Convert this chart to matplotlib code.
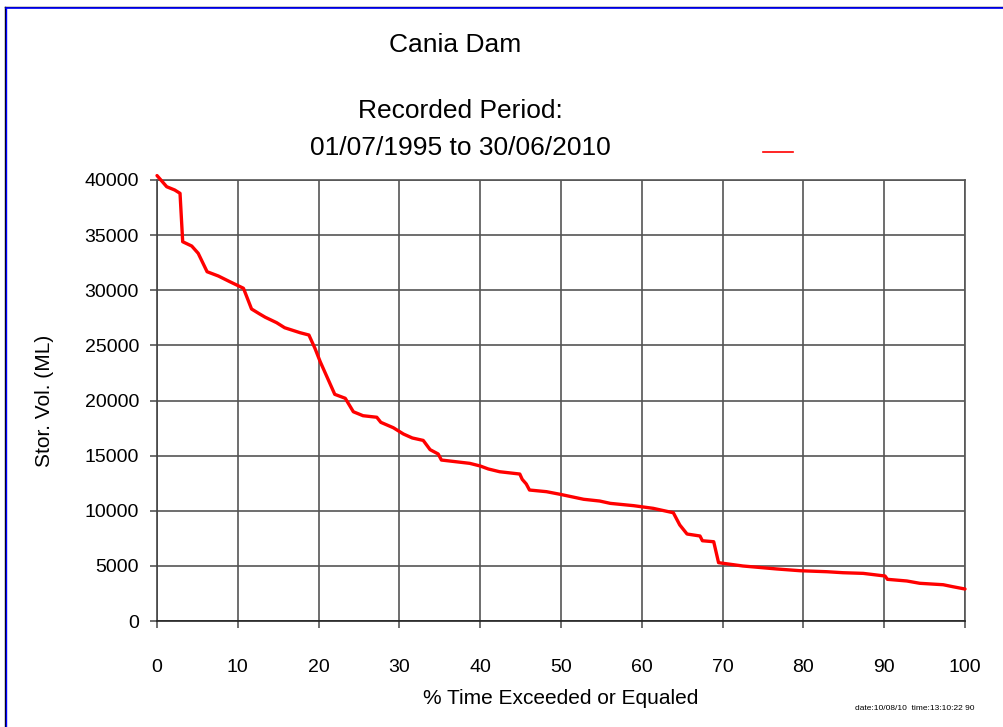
import matplotlib
matplotlib.use("Agg")
import matplotlib.pyplot as plt
from matplotlib.lines import Line2D

plt.rcParams['font.family'] = ['Liberation Sans Narrow', 'Liberation Sans', 'DejaVu Sans']

# Data: % time exceeded or equaled vs storage volume (ML)
pct_time = [0.0, 0.6, 1.2, 2.2, 2.85, 3.18, 4.3, 5.1, 6.2, 7.6, 9.0, 10.7, 11.7, 12.7, 13.4,
            14.8, 15.8, 17.7, 18.8, 19.55, 20.2, 22.0, 23.3, 24.3, 25.5, 27.2, 27.7,
            29.25, 30.5, 31.6, 32.95, 33.8, 34.8, 35.2, 38.7, 40.0, 41.0, 42.4, 44.9,
            45.2, 45.7, 46.1, 48.2, 49.9, 52.8, 54.8, 56.1, 59.0, 61.4, 63.9, 64.7,
            65.6, 67.2, 67.5, 68.9, 69.5, 72.5, 76.7, 79.6, 82.9, 84.9, 87.4, 90.1,
            90.4, 92.8, 94.4, 97.3, 98.5, 100.0]
stor_vol = [40400, 39900, 39390, 39090, 38790, 34400, 34010, 33350, 31680, 31290, 30780, 30180,
            28300, 27850, 27550, 27060, 26600, 26150, 25940, 24730, 23520, 20560, 20200,
            18980, 18620, 18480, 18020, 17530, 16960, 16600, 16380, 15540, 15150, 14600,
            14300, 14060, 13790, 13540, 13330, 12850, 12430, 11880, 11730, 11490, 11040,
            10880, 10670, 10460, 10220, 9820, 8710, 7890, 7710, 7280, 7190, 5290, 4990,
            4720, 4560, 4470, 4380, 4320, 4080, 3780, 3630, 3420, 3290, 3110, 2900]

x_ticks = [0, 10, 20, 30, 40, 50, 60, 70, 80, 90, 100]
y_ticks = [0, 5000, 10000, 15000, 20000, 25000, 30000, 35000, 40000]

W, H = 1004, 727
fig = plt.figure(figsize=(W / 100, H / 100), dpi=100)
ax = fig.add_axes([157 / W, 1 - 621 / H, (965 - 157) / W, (621 - 180) / H])

ax.plot(pct_time, stor_vol, color='#ff0000', lw=2.4, solid_joinstyle='round',
        solid_capstyle='round', zorder=3, clip_on=False)

ax.set_xlim(0, 100)
ax.set_ylim(0, 40000)
ax.set_xticks(x_ticks)
ax.set_yticks(y_ticks)
ax.set_xticklabels([str(v) for v in x_ticks], fontsize=14)
ax.set_yticklabels([str(v) for v in y_ticks], fontsize=14)
ax.tick_params(axis='both', direction='out', length=5, width=1.2, color='#555555')
ax.tick_params(axis='y', pad=8)
ax.tick_params(axis='x', pad=22)
ax.grid(True, color='#555555', lw=1.2)
ax.set_axisbelow(True)
for s in ax.spines.values():
    s.set_color('#555555')
    s.set_linewidth(1.2)
ax.spines['bottom'].set_color('#222222')
ax.spines['left'].set_color('#444444')

ax.set_xlabel('% Time Exceeded or Equaled', fontsize=15, labelpad=10)
ax.set_ylabel('Stor. Vol. (ML)', fontsize=15, labelpad=22)

fig.text(455 / W, 1 - 45 / H, 'Cania Dam', ha='center', va='center', fontsize=19)
fig.text(460 / W, 1 - 111 / H, 'Recorded Period:', ha='center', va='center', fontsize=19)
fig.text(460 / W, 1 - 148 / H, '01/07/1995 to 30/06/2010', ha='center', va='center',
         fontsize=19)
fig.text(975 / W, 1 - 708 / H, 'date:10/08/10  time:13:10:22 90', ha='right',
         va='center', fontsize=6)

# legend sample line
fig.add_artist(Line2D([763 / W, 793 / W], [1 - 152 / H, 1 - 152 / H],
                      color='#ff0000', lw=1.2))

# page border (top and left)
fig.add_artist(Line2D([4.5 / W, 4.5 / W], [0, 1 - 6.5 / H], color='black', lw=1))
fig.add_artist(Line2D([4.5 / W, 1], [1 - 6.5 / H, 1 - 6.5 / H], color='black', lw=1))
fig.add_artist(Line2D([5.8 / W, 5.8 / W], [0, 1 - 7.8 / H], color='#0000ff', lw=1))
fig.add_artist(Line2D([5.8 / W, 1], [1 - 7.8 / H, 1 - 7.8 / H], color='#0000ff', lw=1.2))

fig.savefig('out.png', dpi=100, facecolor='white')
